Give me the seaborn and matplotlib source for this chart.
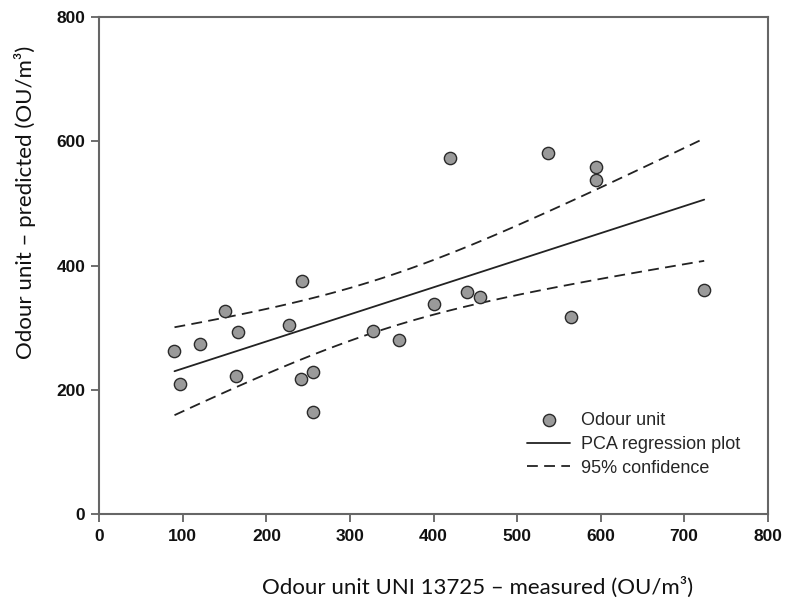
import numpy as np
import pandas as pd
import matplotlib
matplotlib.use("Agg")
import matplotlib.pyplot as plt
import seaborn as sns

# ---- data ----
measured = [90, 97, 120, 151, 164, 166, 227, 243, 242, 256, 256, 327, 359,
            400, 420, 440, 456, 537, 565, 594, 594, 724]
predicted = [263, 210, 274, 327, 223, 293, 304, 376, 218, 229, 165, 294, 280,
             339, 574, 358, 350, 581, 318, 559, 538, 361]
x_ticks = [0, 100, 200, 300, 400, 500, 600, 700, 800]
y_ticks = [0, 200, 400, 600, 800]
t_95 = 2.086  # Student t, df = n - 2 = 20

xlabel = "Odour unit UNI 13725 \u2013 measured (OU/m\u00b3)"
ylabel = "Odour unit \u2013 predicted (OU/m\u00b3)"
legend_labels = ["Odour unit", "PCA regression plot", "95% confidence"]

# ---- regression + confidence band ----
x = np.array(measured, float)
y = np.array(predicted, float)
n = len(x)
slope, intercept = np.polyfit(x, y, 1)
resid = y - (intercept + slope * x)
s = np.sqrt(np.sum(resid ** 2) / (n - 2))
sxx = np.sum((x - x.mean()) ** 2)
xf = np.linspace(x.min(), x.max(), 100)
yf = intercept + slope * xf
half = t_95 * s * np.sqrt(1.0 / n + (xf - x.mean()) ** 2 / sxx)

pts = pd.DataFrame({"measured": measured, "predicted": predicted})
fit = pd.DataFrame({"x": xf, "fit": yf, "lo": yf - half, "hi": yf + half})

# ---- figure ----
sns.set_style("ticks")
fig = plt.figure(figsize=(7.85, 6.04), dpi=100)
ax = fig.add_axes([0.1265, 0.14901, 0.85146, 0.82235])

line_col = "#222222"
sns.lineplot(data=fit, x="x", y="fit", ax=ax, color=line_col, lw=1.3,
             label=legend_labels[1], zorder=2)
sns.lineplot(data=fit, x="x", y="hi", ax=ax, color=line_col, lw=1.3,
             label=legend_labels[2], zorder=2)
sns.lineplot(data=fit, x="x", y="lo", ax=ax, color=line_col, lw=1.3,
             zorder=2)
ax.lines[1].set_dashes((6, 3.5))
ax.lines[2].set_dashes((6, 3.5))
sns.scatterplot(data=pts, x="measured", y="predicted", ax=ax, s=78,
                color="#9a9a9a", edgecolor="#2a2a2a", linewidth=1.0,
                label=legend_labels[0], zorder=3)

ax.set_xlim(0, 800)
ax.set_ylim(0, 800)
ax.set_xticks(x_ticks)
ax.set_yticks(y_ticks)

tick_font = dict(family="Liberation Sans", weight="bold", size=12.5)
ax.set_xticklabels([str(v) for v in x_ticks], fontdict=tick_font)
ax.set_yticklabels([str(v) for v in y_ticks], fontdict=tick_font)
ax.tick_params(axis="both", direction="out", length=6, width=1.2,
               color="#555555", labelcolor="#111111")
ax.tick_params(axis="x", pad=5)
ax.tick_params(axis="y", pad=4)

for sp in ax.spines.values():
    sp.set_visible(True)
    sp.set_color("#666666")
    sp.set_linewidth(1.5)

label_font = dict(family="Lato", size=16, color="#111111")
ax.set_xlabel(xlabel, fontdict=label_font, va="center", ha="center")
ax.set_ylabel(ylabel, fontdict=label_font, va="center", ha="center")
ax.xaxis.set_label_coords(0.5666, -0.147)
ax.yaxis.set_label_coords(-0.1112, 0.628)

# legend
handles, labels = ax.get_legend_handles_labels()
order = [labels.index(l) for l in legend_labels]
leg = ax.legend([handles[i] for i in order], [labels[i] for i in order],
                loc="upper left", bbox_to_anchor=(527 / 785, 1 - 412 / 604),
                bbox_transform=fig.transFigure, frameon=False,
                borderpad=0, borderaxespad=0, handlelength=2.4,
                handletextpad=0.6, labelspacing=0.38, scatterpoints=1,
                prop=dict(family="Liberation Sans", size=13))

ax.grid(False)
fig.savefig("out.png", dpi=100)
